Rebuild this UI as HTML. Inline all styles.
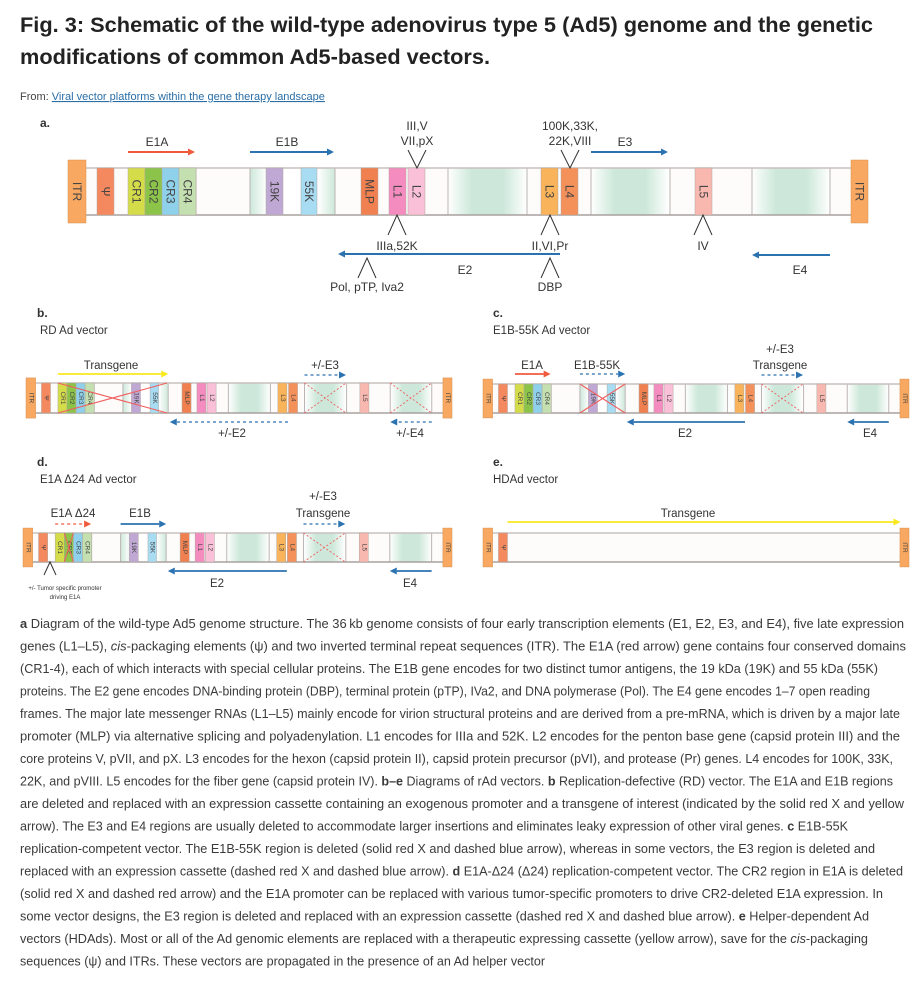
<!DOCTYPE html>
<html><head><meta charset="utf-8"><style>
html,body{margin:0;padding:0;background:#fff;}
svg{display:block;font-family:"Liberation Sans",sans-serif;}
</style></head><body>
<svg id="fig" width="924" height="982" viewBox="0 0 924 982" xmlns="http://www.w3.org/2000/svg">
<defs>
<linearGradient id="gr" x1="0" x2="1" y1="0" y2="0">
<stop offset="0" stop-color="#fff"/><stop offset="0.3" stop-color="#cde8da"/><stop offset="0.7" stop-color="#cde8da"/><stop offset="1" stop-color="#fff"/>
</linearGradient>
<linearGradient id="gr2" x1="0" x2="1" y1="0" y2="0">
<stop offset="0" stop-color="#cde8da"/><stop offset="0.2" stop-color="#fff"/><stop offset="0.8" stop-color="#fff"/><stop offset="1" stop-color="#cde8da"/>
</linearGradient>
</defs>
<g font-weight="bold" font-size="21" fill="#222">
<text x="20" y="32" textLength="853" lengthAdjust="spacingAndGlyphs">Fig. 3: Schematic of the wild-type adenovirus type 5 (Ad5) genome and the genetic</text>
<text x="20" y="64" textLength="470" lengthAdjust="spacingAndGlyphs">modifications of common Ad5-based vectors.</text>
</g>
<text x="20" y="100" font-size="11" fill="#444">From: <tspan fill="#2a6ea6" text-decoration="underline">Viral vector platforms within the gene therapy landscape</tspan></text>
<g id="panels"></g>
<g id="caption" font-size="12.5" fill="#3a3a3a"></g>
</svg>
<script>
const NS="http://www.w3.org/2000/svg";
const root=document.getElementById('panels');
function mk(parent,tag,attrs,txt){const e=document.createElementNS(NS,tag);for(const k in attrs)e.setAttribute(k,attrs[k]);if(txt!==undefined)e.textContent=txt;parent.appendChild(e);return e;}

// genome features in panel-a coordinate units
const boxNames=["psi","CR1","CR2","CR3","CR4","19K","55K","MLP","L1","L2","L3","L4","L5"];
const boxLabels=["Ψ","CR1","CR2","CR3","CR4","19K","55K","MLP","L1","L2","L3","L4","L5"];
const boxStart=[97,128,145,162,179,266,301,361,389,408,541,561,695];
const boxEnd=[114,145,162,179,196,283,317,378,406,425,558,578,712];
const boxColor=["#f4895f","#d4dc4a","#8cc44a","#8fd0ea","#c5e0b0","#c0a8d4","#a8dcf2","#f08050","#f48cc0","#f9c0d8","#f9b35a","#f4905a","#f8b8b0"];
const greenStart=[448,591,752];
const greenEnd=[527,669,830];
const separators=[196,250,335,448,527,591,670,752,830];

function genome(name,x0,x1,yt,yb,fs,empty){
  const g=mk(root,'g',{});
  
  
  const s=(x1-x0)/800, X=u=>x0+(u-68)*s, h=yb-yt, ext=h*8/47;
  const bg=mk(g,'rect',{x:X(86),y:yt,width:X(851)-X(86),height:h,fill:"#fdfcfb"});
  
  
  if(!empty){
    const e1b=mk(g,'rect',{x:X(250),y:yt,width:X(335)-X(250),height:h,fill:"url(#gr2)"});
    
    
    for(let i=0;i<greenStart.length;i++){
      const r=mk(g,'rect',{x:X(greenStart[i]),y:yt,width:X(greenEnd[i])-X(greenStart[i]),height:h,fill:"url(#gr)"});
      
      
    }
    for(const u of separators){
      const l=mk(g,'line',{x1:X(u),x2:X(u),y1:yt,y2:yb,stroke:"#bcb4b2","stroke-width":1});
      
      
    }
  }
  mk(g,'line',{x1:X(86),x2:X(851),y1:yt,y2:yt,stroke:"#c8c0be","stroke-width":1.5});
  mk(g,'line',{x1:X(86),x2:X(851),y1:yb,y2:yb,stroke:"#a8a09e","stroke-width":1.5});
  const n=empty?1:boxStart.length;
  for(let i=0;i<n;i++){
    const r=mk(g,'rect',{x:X(boxStart[i]),y:yt,width:X(boxEnd[i])-X(boxStart[i]),height:h,fill:boxColor[i],stroke:"#b0a8a0","stroke-width":0.5});
    
    
    const cx=(X(boxStart[i])+X(boxEnd[i]))/2, cy=(yt+yb)/2;
    const t=mk(g,'text',{x:cx,y:cy,'font-size':fs,'text-anchor':'middle','dominant-baseline':'central',fill:"#444",transform:`rotate(90 ${cx} ${cy})`},boxLabels[i]);
    
    
  }
  for(const [a,b] of [[68,86],[851,868]]){
    const r=mk(g,'rect',{x:X(a),y:yt-ext,width:X(b)-X(a),height:h+2*ext,fill:"#f8a860",stroke:"#d89050","stroke-width":0.5});
    
    
    const cx=(X(a)+X(b))/2, cy=(yt+yb)/2;
    const t=mk(g,'text',{x:cx,y:cy,'font-size':fs,'text-anchor':'middle','dominant-baseline':'central',fill:"#444",transform:`rotate(90 ${cx} ${cy})`},"ITR");
    
    
  }
  return {g,X,yt,yb};
}
function arrow(P,name,u0,u1,y,color,dashed,w){
  const x0=P.X(u0),x1=P.X(u1),dir=x1>x0?1:-1,hl=7;
  const g=mk(root,'g',{});
  
  
  mk(g,'line',{x1:x0,y1:y,x2:x1-dir*hl,y2:y,stroke:color,'stroke-width':w||2,'stroke-dasharray':dashed?'3,3':'none'});
  mk(g,'polygon',{points:`${x1},${y} ${x1-dir*hl},${y-3.5} ${x1-dir*hl},${y+3.5}`,fill:color});
}
function cross(P,name,u0,u1,dashed){
  const g=mk(root,'g',{stroke:"#f06060",'stroke-width':dashed?0.9:1.1,'stroke-dasharray':dashed?'2,2':'none'});
  
  
  mk(g,'line',{x1:P.X(u0),y1:P.yt,x2:P.X(u1),y2:P.yb});
  mk(g,'line',{x1:P.X(u0),y1:P.yb,x2:P.X(u1),y2:P.yt});
}
function label(name,x,y,txt,fs,anchor,weight){
  const t=mk(root,'text',{x:x,y:y,'font-size':fs,'text-anchor':anchor||'middle',fill:"#333",'font-weight':weight||'normal'},txt);
  
  
}
function caret(name,x,y0,y1,w){
  const p=mk(root,'polyline',{points:`${x-w},${y1} ${x},${y0} ${x+w},${y1}`,fill:'none',stroke:'#333','stroke-width':1});
  
  
}
const RED="#f05a3c",BLUE="#2a72b0",YEL="#f8e81c";

// Panel a
label('panel-a-letter',40,127,'a.',12,'start','bold');
const A=genome('genome-wild-type',68,868,168,215,12,false);
arrow(A,'arrow-e1a',128,195,152,RED,false);
label('label-e1a',157,146,'E1A',12);
arrow(A,'arrow-e1b',250,334,152,BLUE,false);
label('label-e1b',287,146,'E1B',12);
arrow(A,'arrow-e3',591,668,152,BLUE,false);
label('label-e3',625,146,'E3',12);
arrow(A,'arrow-e2',560,338,254,BLUE,false);
label('label-e2',465,274,'E2',12);
arrow(A,'arrow-e4',830,752,255,BLUE,false);
label('label-e4',800,274,'E4',12);
caret('caret-l2',417,168,150,9);
label('label-l2-proteins-1',417,130,'III,V',12);
label('label-l2-proteins-2',417,145,'VII,pX',12);
caret('caret-l4',570,168,150,9);
label('label-l4-proteins-1',570,130,'100K,33K,',12);
label('label-l4-proteins-2',570,145,'22K,VIII',12);
caret('caret-l1',397,215,235,9);
label('label-l1-proteins',397,250,'IIIa,52K',12);
caret('caret-l3',550,215,235,9);
label('label-l3-proteins',550,250,'II,VI,Pr',12);
caret('caret-l5',703,215,235,9);
label('label-l5-proteins',703,250,'IV',12);
caret('caret-pol',367,258,278,9);
label('label-pol',367,291,'Pol, pTP, Iva2',12);
caret('caret-dbp',550,258,278,9);
label('label-dbp',550,291,'DBP',12);

// Panel b
label('panel-b-letter',37,317,'b.',12,'start','bold');
label('panel-b-title',40,334,'RD Ad vector',11.5,'start');
const B=genome('genome-rd-vector',26,452,383,413,6.5,false);
cross(B,'cross-e1',128,333,false);
cross(B,'cross-e3',591,669,true);
cross(B,'cross-e4',752,830,true);
arrow(B,'arrow-transgene',128,335,374,YEL,false,1.8);
label('label-transgene',111,369,'Transgene',11.5);
arrow(B,'arrow-e3',591,669,375,BLUE,true,1.3);
label('label-e3',325,369,'+/-E3',11.5);
arrow(B,'arrow-e2',560,338,422,BLUE,true,1.3);
label('label-e2',232,437,'+/-E2',11.5);
arrow(B,'arrow-e4',830,752,422,BLUE,true,1.3);
label('label-e4',410,437,'+/-E4',11.5);

// Panel c
label('panel-c-letter',493,317,'c.',12,'start','bold');
label('panel-c-title',493,334,'E1B-55K Ad vector',11.5,'start');
const C=genome('genome-e1b55k-vector',483,909,384,413,6.5,false);
cross(C,'cross-e1b',250,335,false);
cross(C,'cross-e3',591,669,true);
arrow(C,'arrow-e1a',128,195,374,RED,false,1.8);
label('label-e1a',532,369,'E1A',11.5);
arrow(C,'arrow-e1b55k',250,335,374,BLUE,true,1.3);
label('label-e1b55k',597,369,'E1B-55K',11.5);
arrow(C,'arrow-e3',591,669,375,BLUE,true,1.3);
label('label-e3',780,353,'+/-E3',11.5);
label('label-transgene',780,369,'Transgene',11.5);
arrow(C,'arrow-e2',560,338,422,BLUE,false,1.8);
label('label-e2',685,437,'E2',11.5);
arrow(C,'arrow-e4',830,752,422,BLUE,false,1.8);
label('label-e4',870,437,'E4',11.5);

// Panel d
label('panel-d-letter',37,466,'d.',12,'start','bold');
label('panel-d-title',40,483,'E1A Δ24 Ad vector',11.5,'start');
const D=genome('genome-e1a-d24-vector',23,452,533,562,6.5,false);
cross(D,'cross-cr2',145,162,false);
cross(D,'cross-e3',591,669,true);
arrow(D,'arrow-e1a-d24',128,195,524,RED,true,1.3);
label('label-e1a-d24',73,517,'E1A Δ24',11.5);
arrow(D,'arrow-e1b',250,335,524,BLUE,false,1.8);
label('label-e1b',140,517,'E1B',11.5);
arrow(D,'arrow-e3',591,669,524,BLUE,true,1.3);
label('label-e3',323,500,'+/-E3',11.5);
label('label-transgene',323,517,'Transgene',11.5);
arrow(D,'arrow-e2',560,338,571,BLUE,false,1.8);
label('label-e2',217,587,'E2',11.5);
arrow(D,'arrow-e4',830,752,571,BLUE,false,1.8);
label('label-e4',410,587,'E4',11.5);
caret('caret-promoter',50,562,575,6);
label('label-promoter-1',65,590,'+/- Tumor specific promoter',6);
label('label-promoter-2',65,599,'driving E1A',6);

// Panel e
label('panel-e-letter',493,466,'e.',12,'start','bold');
label('panel-e-title',493,483,'HDAd vector',11.5,'start');
const E=genome('genome-hdad-vector',483,909,533,562,6.5,true);
arrow(E,'arrow-transgene',114,852,522,YEL,false,1.8);
label('label-transgene',688,517,'Transgene',11.5);

// Caption
const cap=document.getElementById('caption');
const lines=[
 [["b","a"],["n"," Diagram of the wild-type Ad5 genome structure. The 36\u2009kb genome consists of four early transcription elements (E1, E2, E3, and E4), five late expression"]],
 [["n","genes (L1–L5), "],["i","cis"],["n","-packaging elements (ψ) and two inverted terminal repeat sequences (ITR). The E1A (red arrow) gene contains four conserved domains"]],
 [["n","(CR1-4), each of which interacts with special cellular proteins. The E1B gene encodes for two distinct tumor antigens, the 19 kDa (19K) and 55 kDa (55K)"]],
 [["n","proteins. The E2 gene encodes DNA-binding protein (DBP), terminal protein (pTP), IVa2, and DNA polymerase (Pol). The E4 gene encodes 1–7 open reading"]],
 [["n","frames. The major late messenger RNAs (L1–L5) mainly encode for virion structural proteins and are derived from a pre-mRNA, which is driven by a major late"]],
 [["n","promoter (MLP) via alternative splicing and polyadenylation. L1 encodes for IIIa and 52K. L2 encodes for the penton base gene (capsid protein III) and the"]],
 [["n","core proteins V, pVII, and pX. L3 encodes for the hexon (capsid protein II), capsid protein precursor (pVI), and protease (Pr) genes. L4 encodes for 100K, 33K,"]],
 [["n","22K, and pVIII. L5 encodes for the fiber gene (capsid protein IV). "],["b","b–e"],["n"," Diagrams of rAd vectors. "],["b","b"],["n"," Replication-defective (RD) vector. The E1A and E1B regions"]],
 [["n","are deleted and replaced with an expression cassette containing an exogenous promoter and a transgene of interest (indicated by the solid red X and yellow"]],
 [["n","arrow). The E3 and E4 regions are usually deleted to accommodate larger insertions and eliminates leaky expression of other viral genes. "],["b","c"],["n"," E1B-55K"]],
 [["n","replication-competent vector. The E1B-55K region is deleted (solid red X and dashed blue arrow), whereas in some vectors, the E3 region is deleted and"]],
 [["n","replaced with an expression cassette (dashed red X and dashed blue arrow). "],["b","d"],["n"," E1A-Δ24 (Δ24) replication-competent vector. The CR2 region in E1A is deleted"]],
 [["n","(solid red X and dashed red arrow) and the E1A promoter can be replaced with various tumor-specific promoters to drive CR2-deleted E1A expression. In"]],
 [["n","some vector designs, the E3 region is deleted and replaced with an expression cassette (dashed red X and dashed blue arrow). "],["b","e"],["n"," Helper-dependent Ad"]],
 [["n","vectors (HDAds). Most or all of the Ad genomic elements are replaced with a therapeutic expressing cassette (yellow arrow), save for the "],["i","cis"],["n","-packaging"]],
 [["n","sequences (ψ) and ITRs. These vectors are propagated in the presence of an Ad helper vector"]]
];
const ends=[904,906,878,870,900,900,893,893,904,848,875,903,883,869,868,545];
lines.forEach((ln,i)=>{
  const t=mk(cap,'text',{x:20,y:628+i*22.5,textLength:ends[i]-20,lengthAdjust:'spacingAndGlyphs'});
  
  
  ln.forEach(([k,s])=>{
    const a={};
    if(k==='b')a['font-weight']='bold';
    if(k==='i')a['font-style']='italic';
    mk(t,'tspan',a,s);
  });
});
</script>
</body></html>
